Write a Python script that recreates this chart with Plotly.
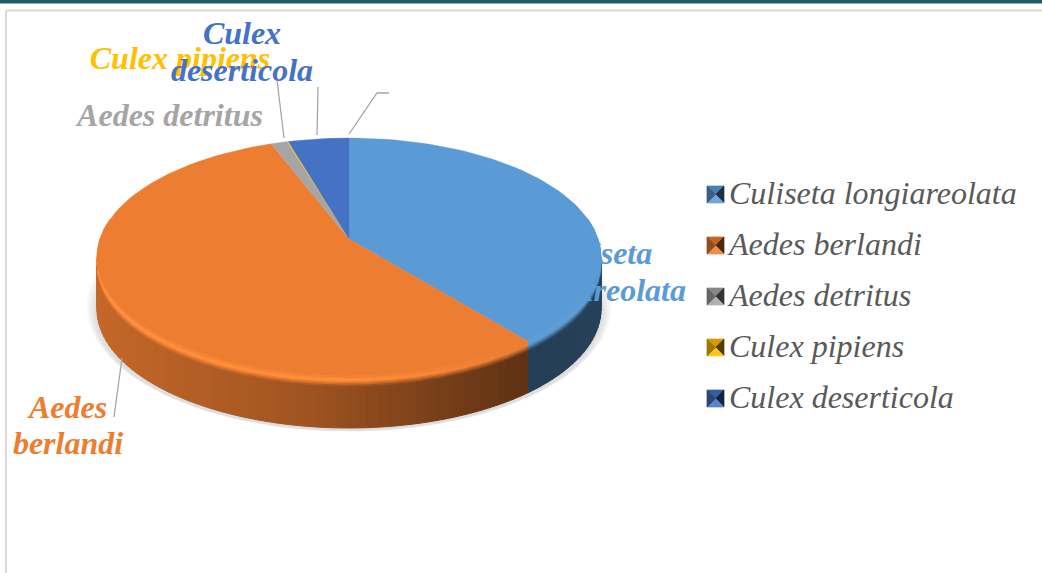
import numpy as np
import plotly.graph_objects as go

# ---- data ----
species = ["Culiseta longiareolata", "Aedes berlandi", "Aedes detritus", "Culex pipiens", "Culex deserticola"]
shares = [39.1, 55.1, 1.2, 0.1, 4.5]
slice_colors = ["#5B9BD5", "#ED7D31", "#A5A5A5", "#FFC000", "#4472C4"]
label_lines = [["Culiseta", "longiareolata"], ["Aedes", "berlandi"], ["Aedes detritus"], ["Culex pipiens"], ["Culex", "deserticola"]]

# ---- layout constants (pixels) ----
W, H = 1042, 573
CX, CY = 349, 239
A, B, K = 249.1, 116.3, 0.151
BEVEL, DEPTH = 10, 52
label_x = [598, 68, 170, 180, 242]
label_y = [[256, 293], [410, 446], [118], [61], [36, 73]]
legend_y = [194.5, 245.5, 296.5, 347.5, 398.5]
LEG_X0, LEG_S, LEG_TX = 707, 17, 729
FONT = "Liberation Serif"
LABEL_SIZE, LEGEND_SIZE = 32, 32


def rgb(h):
    return np.array([int(h[i:i + 2], 16) for i in (1, 3, 5)], float)


def css(c):
    c = np.clip(c, 0, 255)
    return f"rgb({int(c[0])},{int(c[1])},{int(c[2])})"


def proj(theta_deg, r=1.0, shift=0.0):
    t = np.radians(theta_deg)
    u, v = r * np.sin(t), r * np.cos(t)
    w = 1 + K * v
    return CX + A * u / w, CY - B * v / w + shift


def poly(xs, ys, color, name=None, lw=0.7):
    xs, ys = list(xs), list(ys)
    return go.Scatter(x=xs + xs[:1], y=ys + ys[:1], mode="lines", fill="toself", fillcolor=color,
                      line=dict(color=color, width=lw), hoverinfo="skip", showlegend=False, name=name)


def side_factor(x):
    return np.interp(x, [97, 300, 526, 601], [0.83, 0.68, 0.40, 0.42])


def highlight(x):
    return np.interp(x, [97, 350, 526], [0.18, 0.16, 0.0])


fig = go.Figure()

# slice angles
edges = np.concatenate([[0], np.cumsum(shares)]) / sum(shares) * 360

# soft shadow
full = np.linspace(0, 360, 181)
for r, s in [(1.04, 48), (1.032, 50), (1.024, 52), (1.016, 53), (1.008, 54)]:
    x, y = proj(full, r, s)
    fig.add_trace(go.Scatter(x=x, y=y, mode="lines", fill="toself", fillcolor="rgba(130,130,140,0.06)",
                             line=dict(width=0), hoverinfo="skip", showlegend=False))

# side wall, then bevel, front part only
N_BANDS = 6
for i, col in enumerate(slice_colors):
    a0, b0 = max(edges[i], 80), min(edges[i + 1], 280)
    if b0 <= a0:
        continue
    base = rgb(col)
    ang = np.linspace(a0, b0, max(1, int(np.ceil((b0 - a0) / 2))) + 1)
    for a, b in zip(ang[:-1], ang[1:]):
        xa, ya = proj(a)
        xb, yb = proj(b)
        fig.add_trace(poly([xa, xb, xb, xa], [ya + BEVEL, yb + BEVEL, yb + DEPTH, ya + DEPTH],
                           css(base * side_factor((xa + xb) / 2)), lw=1))
for i, col in enumerate(slice_colors):
    a0, b0 = max(edges[i], 80), min(edges[i + 1], 280)
    if b0 <= a0:
        continue
    base = rgb(col)
    ang = np.linspace(a0, b0, max(1, int(np.ceil((b0 - a0) / 5))) + 1)
    for a, b in zip(ang[:-1], ang[1:]):
        xa, ya = proj(a)
        xb, yb = proj(b)
        xm = (xa + xb) / 2
        f, h = side_factor(xm), highlight(xm)
        for k in range(N_BANDS):
            t = (k + 0.5) / N_BANDS
            s0, s1 = BEVEL * (1 - k / N_BANDS), BEVEL * (1 - (k + 1) / N_BANDS)
            if t < 0.6:
                c = base * f + (base * (1 + h) - base * f) * (t / 0.6)
            else:
                c = base * (1 + h) + (base - base * (1 + h)) * ((t - 0.6) / 0.4)
            fig.add_trace(poly([xa, xb, xb, xa], [ya + s0, yb + s0, yb + s1, ya + s1], css(c)))

# top face
for i, col in enumerate(slice_colors):
    n = max(2, int(np.ceil((edges[i + 1] - edges[i]) / 2)))
    x, y = proj(np.linspace(edges[i], edges[i + 1], n + 1))
    cx, cy = proj(0.0, 0.0)
    fig.add_trace(poly(np.r_[cx, x], np.r_[cy, y], col, species[i], lw=0.3))

# data labels, over the pie (same blue as its slice, so it melts into the face)
for lines, lx, lys, col in zip(label_lines, label_x, label_y, slice_colors):
    for line, ly in zip(lines, lys):
        fig.add_trace(go.Scatter(x=[lx], y=[ly], mode="text", text=[line], textposition="middle center",
                                 textfont=dict(family=FONT, size=LABEL_SIZE, color=col, weight="bold", style="italic"),
                                 hoverinfo="skip", showlegend=False, cliponaxis=False))

# legend drawn by hand, with bevelled keys
for name, col, ly in zip(species, slice_colors, legend_y):
    base = rgb(col)
    x0, x1, xm = LEG_X0, LEG_X0 + LEG_S, LEG_X0 + LEG_S / 2
    y0, y1, ym = ly - LEG_S / 2, ly + LEG_S / 2, ly
    fig.add_trace(poly([x0, x1, xm], [y0, y0, ym], css(base * 0.82)))
    fig.add_trace(poly([x1, x1, xm], [y0, y1, ym], css(base * 0.32)))
    fig.add_trace(poly([x0, xm, x1], [y1, ym, y1], css(base * 0.85 + 35)))
    fig.add_trace(poly([x0, x0, xm], [y0, y1, ym], css(base * 0.62)))
    fig.add_trace(go.Scatter(x=[LEG_TX], y=[ly + 1.5], mode="text", text=[name], textposition="middle right",
                             textfont=dict(family=FONT, size=LEGEND_SIZE, color="#595959", style="italic"),
                             hoverinfo="skip", showlegend=False, cliponaxis=False))

# leader lines
leaders = [
    [(349, 134), (377, 93), (389, 93)],
    [(122, 358), (114, 417)],
    [(284, 138), (277, 80)],
    [(317, 135), (318, 87)],
]
shapes = [
    dict(type="rect", xref="x", yref="y", x0=0, x1=W, y0=0, y1=3.5, fillcolor="#215968", line=dict(width=0)),
    dict(type="line", xref="x", yref="y", x0=6, x1=W, y0=10.5, y1=10.5, line=dict(color="#D9D9D9", width=2)),
    dict(type="line", xref="x", yref="y", x0=6, x1=6, y0=10.5, y1=H, line=dict(color="#D9D9D9", width=2)),
]
for pts in leaders:
    path = "M " + " L ".join(f"{p[0]},{p[1]}" for p in pts)
    shapes.append(dict(type="path", xref="x", yref="y", path=path, line=dict(color="#A6A6A6", width=1.3)))

fig.update_layout(
    width=W, height=H, margin=dict(l=0, r=0, t=0, b=0),
    paper_bgcolor="white", plot_bgcolor="white", showlegend=False,
    xaxis=dict(range=[0, W], visible=False, fixedrange=True),
    yaxis=dict(range=[H, 0], visible=False, fixedrange=True),
    shapes=shapes,
)
fig.write_html("out.html", config=dict(displayModeBar=False),
               post_script="document.body.style.margin='0';document.body.style.overflow='hidden';")
